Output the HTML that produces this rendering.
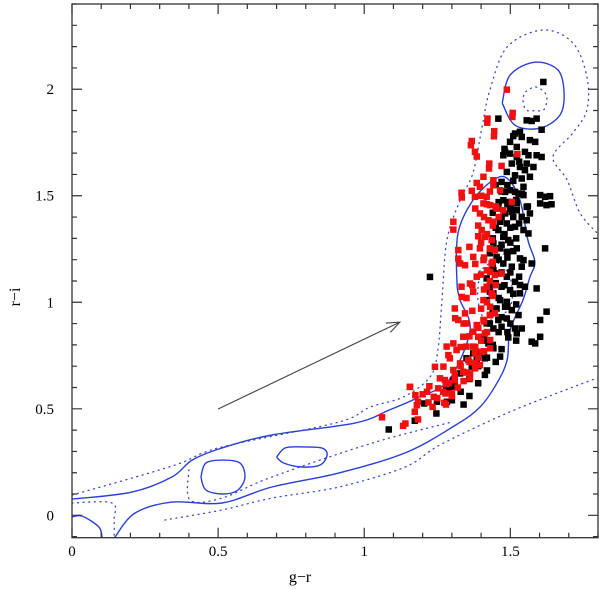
<!DOCTYPE html>
<html><head><meta charset="utf-8"><style>
html,body{margin:0;padding:0;background:#fff;}
svg{display:block;font-family:"Liberation Serif",serif;}
</style></head><body>
<svg id="chart" width="600" height="589" viewBox="0 0 600 589" xmlns="http://www.w3.org/2000/svg">
<g id="contours"></g>
<g id="pts"></g>
<g id="arrow"></g>
<g id="axes"></g>
<text x="300" y="582" text-anchor="middle" font-size="16">g−r</text>
<text x="20" y="297" text-anchor="middle" font-size="16" transform="rotate(-90 20 297)">r−i</text>
</svg>
<script>
const xTicks=[0,0.5,1,1.5];
const xTickLabels=["0","0.5","1","1.5"];
const yTicks=[0,0.5,1,1.5,2];
const yTickLabels=["0","0.5","1","1.5","2"];
const blackGR=[1.613,1.556,1.573,1.59,1.607,1.459,1.516,1.533,1.499,1.539,1.567,1.585,1.476,1.499,1.522,1.55,1.562,1.59,1.607,1.505,1.533,1.556,1.579,1.488,1.516,1.539,1.567,1.47,1.482,1.499,1.516,1.528,1.545,1.602,1.624,1.641,1.476,1.493,1.522,1.556,1.459,1.482,1.505,1.539,1.556,1.567,1.465,1.488,1.516,1.545,1.562,1.459,1.476,1.493,1.619,1.442,1.465,1.488,1.522,1.533,1.545,1.453,1.476,1.505,1.539,1.573,1.442,1.459,1.488,1.516,1.533,1.55,1.59,1.419,1.431,1.47,1.499,1.442,1.465,1.488,1.533,1.624,1.419,1.453,1.482,1.505,1.528,1.602,1.431,1.459,1.488,1.419,1.442,1.47,1.516,1.539,1.493,1.522,1.602,1.573,1.585,1.408,1.425,1.442,1.396,1.413,1.465,1.385,1.368,1.413,1.328,1.305,1.288,1.31,1.373,1.35,1.602,1.619,1.636,1.522,1.545,1.482,1.522,1.084,1.173,1.205,1.247,1.249,1.283,1.28,1.225,
1.45,1.47,1.49,1.51,1.46,1.50,1.52,1.44,1.47,1.51,1.53,1.45,1.48,1.50,1.44,1.47,1.50,1.52,1.43,1.46,1.49,1.51,1.44,1.47,1.50,1.53,1.45,1.48,1.51,1.43,1.46,1.49,1.52,1.44,1.47,1.50,1.43,1.46,1.49,1.52,1.41,1.44,1.47,1.42,1.45,1.39,1.42,1.36,1.39,1.33,1.36,1.30,1.34,1.48,1.51,1.53,1.55,1.49,1.54,1.56];
const blackRI=[2.034,1.854,1.851,1.862,1.81,1.862,1.792,1.8,1.753,1.776,1.761,1.753,1.69,1.698,1.682,1.706,1.69,1.69,1.682,1.651,1.635,1.651,1.635,1.612,1.596,1.581,1.589,1.565,1.518,1.526,1.518,1.51,1.503,1.464,1.456,1.46,1.479,1.471,1.464,1.448,1.44,1.417,1.424,1.401,1.385,1.417,1.378,1.37,1.354,1.339,1.323,1.339,1.307,1.292,1.253,1.276,1.253,1.237,1.253,1.206,1.198,1.213,1.182,1.167,1.167,1.182,1.151,1.135,1.12,1.096,1.081,1.073,1.065,1.112,1.081,1.073,1.057,1.042,1.01,1.002,1.042,0.956,1.01,0.971,0.979,0.963,0.94,0.917,0.94,0.917,0.924,0.901,0.877,0.885,0.877,0.877,0.835,0.854,0.838,0.815,0.807,0.838,0.807,0.784,0.76,0.737,0.745,0.729,0.698,0.659,0.666,0.635,0.596,0.604,0.76,0.737,1.503,1.495,1.498,1.432,1.542,1.706,1.729,0.403,0.444,0.525,0.478,0.533,0.533,0.603,1.119,
1.55,1.52,1.55,1.57,1.47,1.44,1.48,1.42,1.40,1.40,1.37,1.35,1.32,1.35,1.30,1.27,1.28,1.30,1.23,1.20,1.21,1.24,1.16,1.14,1.14,1.12,1.09,1.08,1.04,1.05,1.02,0.98,0.99,0.96,0.93,0.90,0.90,0.86,0.86,0.82,0.82,0.80,0.78,0.74,0.72,0.70,0.68,0.64,0.62,0.58,0.56,0.54,0.52,1.72,1.78,1.66,1.62,1.46,1.51,1.45];
const redGR=[1.488,1.508,1.422,1.445,1.368,1.379,1.428,1.47,1.524,1.408,1.385,1.442,1.333,1.368,1.379,1.396,1.419,1.442,1.465,1.505,1.408,1.431,1.453,1.476,1.305,1.396,1.425,1.442,1.402,1.413,1.436,1.396,1.431,1.447,1.322,1.373,1.328,1.345,1.408,1.436,1.431,1.447,1.47,1.385,1.362,1.333,1.373,1.419,1.436,1.408,1.431,1.447,1.31,1.345,1.322,1.35,1.385,1.408,1.373,1.39,1.413,1.431,1.339,1.305,1.316,1.35,1.282,1.373,1.293,1.328,1.356,1.379,1.305,1.339,1.362,1.276,1.31,1.362,1.396,1.431,1.402,1.379,1.271,1.061,1.133,1.141,1.156,1.175,1.173,1.184,1.184,1.2,1.223,1.234,1.238,1.253,1.274,1.278,1.28,1.157,1.242,1.259,1.3,1.288,1.18,1.215,1.365,1.385,1.421,1.444,1.507,1.427,1.334,1.305,1.322,1.334,1.311,
1.40,1.42,1.38,1.41,1.44,1.39,1.42,1.40,1.43,1.41,1.44,1.42,1.40,1.43,1.45,1.41,1.44,1.42,1.40,1.43,1.41,1.39,1.42,1.40,1.38,1.41,1.39,1.36,1.38,1.35,1.33,1.31,1.34,1.32,1.29,1.27,1.30,1.25,1.28,1.22,1.37,1.35,1.37,1.34,1.36,1.33,1.38,1.36,1.39,1.45,1.43,1.46];
const redRI=[1.998,1.889,1.862,1.803,1.757,1.706,1.651,1.64,1.695,1.589,1.56,1.573,1.514,1.523,1.495,1.542,1.495,1.55,1.526,1.471,1.464,1.456,1.44,1.432,1.378,1.417,1.385,1.378,1.339,1.307,1.292,1.253,1.253,1.245,1.245,1.213,1.182,1.174,1.198,1.182,1.143,1.128,1.135,1.12,1.088,1.073,1.049,1.073,1.042,1.01,0.979,0.948,0.971,0.948,0.917,0.901,0.893,0.917,0.862,0.838,0.854,0.823,0.838,0.807,0.776,0.792,0.792,0.792,0.737,0.713,0.729,0.713,0.682,0.674,0.666,0.635,0.635,0.643,0.705,0.784,0.768,0.76,0.698,0.46,0.42,0.431,0.603,0.564,0.486,0.45,0.533,0.568,0.606,0.509,0.556,0.596,0.528,0.572,0.616,0.603,0.697,0.643,0.572,0.752,0.517,0.58,1.737,1.684,1.843,1.779,1.87,1.628,1.492,1.341,1.205,1.025,0.925,
1.50,1.46,1.44,1.40,1.36,1.36,1.32,1.28,1.25,1.21,1.19,1.15,1.13,1.10,1.08,1.06,1.03,1.00,0.97,0.94,0.91,0.88,0.86,0.82,0.79,0.77,0.74,0.72,0.69,0.67,0.70,0.66,0.63,0.60,0.62,0.58,0.56,0.55,0.52,0.53,1.08,1.02,0.96,0.90,0.84,0.79,1.18,1.26,1.31,1.45,1.52,1.40];
// contour lines in data units [g-r, r-i]
const solidOuter=[[0,0.076],[0.205,0.109],[0.342,0.18],[0.411,0.259],[0.513,0.316],[0.684,0.377],[0.968,0.433],[1.085,0.494],[1.187,0.555],[1.29,0.635],[1.362,0.868],[1.328,1.01],[1.317,1.104],[1.321,1.324],[1.372,1.479],[1.441,1.573],[1.489,1.582],[1.533,1.479],[1.56,1.292],[1.584,1.189],[1.567,1.118],[1.543,1.01],[1.499,0.869],[1.489,0.728],[1.454,0.62],[1.396,0.508],[1.311,0.422],[1.14,0.293],[0.914,0.199],[0.684,0.133],[0.513,0.058],[0.342,0.062],[0.216,0.011],[0.147,-0.102],[0.13,-0.14]];
const solidTop=[[1.472,1.935],[1.499,2.066],[1.584,2.127],[1.663,2.09],[1.684,1.982],[1.67,1.879],[1.602,1.817],[1.516,1.831],[1.472,1.935]];
const solidLoop1=[[0.441,0.18],[0.458,0.245],[0.517,0.259],[0.575,0.245],[0.592,0.18],[0.568,0.119],[0.517,0.1],[0.458,0.119],[0.441,0.18]];
const solidLoop2=[[0.7,0.273],[0.729,0.316],[0.787,0.321],[0.855,0.316],[0.873,0.283],[0.849,0.236],[0.787,0.227],[0.725,0.245],[0.7,0.273]];
const solidCorner=[[0,-0.008],[0.034,-0.003],[0.092,-0.055],[0.103,-0.106],[0.106,-0.13]];
const dottedOuter=[[0,0.095],[0.342,0.231],[0.455,0.297],[0.571,0.339],[0.914,0.438],[1.02,0.508],[1.133,0.555],[1.225,0.649],[1.252,0.776],[1.266,1.01],[1.283,1.291],[1.328,1.479],[1.372,1.606],[1.403,1.822],[1.43,1.996],[1.489,2.198],[1.612,2.278],[1.714,2.217],[1.762,2.058],[1.762,1.903],[1.714,1.795],[1.646,1.683],[1.694,1.575],[1.738,1.42],[1.796,1.326]];
const dottedInner=[[0,0.058],[0.137,0.058],[0.144,-0.022],[0.144,-0.12]];
const dottedMid=[[0.4,0.213],[0.404,0.072],[0.513,0.081],[0.684,0.18],[1.027,0.339],[1.3,0.438]];
const dottedCore=[[1.396,1.148],[1.389,1.01],[1.42,0.916],[1.499,0.977],[1.499,1.118],[1.448,1.189],[1.396,1.148]];
const dottedTopCore=[[1.553,1.989],[1.584,2.011],[1.615,1.989],[1.625,1.955],[1.615,1.904],[1.584,1.899],[1.553,1.904],[1.543,1.955],[1.553,1.989]];
const dottedLower=[[0.318,-0.022],[0.513,0.025],[0.684,0.081],[0.914,0.133],[1.14,0.227],[1.259,0.33],[1.489,0.48],[1.714,0.602],[1.807,0.649]];
const arrowFrom=[0.5,0.499];
const arrowTo=[1.122,0.907];

const X0=72,X1=598,Y0=4,Y1=537.7;
const xMin=0,xMax=1.8,yMin=-0.105,yMax=2.4;
function sx(v){return X0+(v-xMin)/(xMax-xMin)*(X1-X0);}
function sy(v){return Y1-(v-yMin)/(yMax-yMin)*(Y1-Y0);}
const NS="http://www.w3.org/2000/svg";
function mk(tag,attrs,parent){const e=document.createElementNS(NS,tag);for(const k in attrs)e.setAttribute(k,attrs[k]);parent.appendChild(e);return e;}
const svg=document.getElementById('chart');
const defs=mk('defs',{},svg);
const cp=mk('clipPath',{id:'clip'},defs);
mk('rect',{x:X0,y:Y0,width:X1-X0,height:Y1-Y0},cp);

function smoothPath(pts){
  const p=pts.map(d=>[sx(d[0]),sy(d[1])]);
  let s='M'+p[0][0].toFixed(1)+','+p[0][1].toFixed(1);
  for(let i=0;i<p.length-1;i++){
    const a=p[Math.max(0,i-1)],b=p[i],c=p[i+1],d=p[Math.min(p.length-1,i+2)];
    const c1=[b[0]+(c[0]-a[0])/6,b[1]+(c[1]-a[1])/6],c2=[c[0]-(d[0]-b[0])/6,c[1]-(d[1]-b[1])/6];
    s+='C'+c1[0].toFixed(1)+','+c1[1].toFixed(1)+' '+c2[0].toFixed(1)+','+c2[1].toFixed(1)+' '+c[0].toFixed(1)+','+c[1].toFixed(1);
  }
  return s;
}
const cg=document.getElementById('contours');
cg.setAttribute('clip-path','url(#clip)');
const solids=[['contour-solid-outer',solidOuter],['contour-solid-top',solidTop],['contour-solid-loop-1',solidLoop1],['contour-solid-loop-2',solidLoop2],['contour-solid-corner',solidCorner]];
const dots=[['contour-dotted-outer',dottedOuter],['contour-dotted-inner',dottedInner],['contour-dotted-mid',dottedMid],['contour-dotted-core',dottedCore],['contour-dotted-top-core',dottedTopCore],['contour-dotted-lower',dottedLower]];
solids.forEach(s=>{const e=mk('path',{d:smoothPath(s[1]),fill:'none',stroke:'#2a3fd6','stroke-width':1.4},cg);

});
dots.forEach(s=>{const e=mk('path',{d:smoothPath(s[1]),fill:'none',stroke:'#3a4ad0','stroke-width':1.3,'stroke-dasharray':'1 4.6','stroke-linecap':'round'},cg);

});

const pg=document.getElementById('pts');
pg.setAttribute('clip-path','url(#clip)');
for(let i=0;i<blackGR.length;i++){const e=mk('rect',{x:sx(blackGR[i])-3.25,y:sy(blackRI[i])-3.25,width:6.5,height:6.5,fill:'#000'},pg);

}
for(let i=0;i<redGR.length;i++){const e=mk('rect',{x:sx(redGR[i])-3.25,y:sy(redRI[i])-3.25,width:6.5,height:6.5,fill:'#f01010'},pg);

}

const ag=document.getElementById('arrow');
const ax0=sx(arrowFrom[0]),ay0=sy(arrowFrom[1]),ax1=sx(arrowTo[0]),ay1=sy(arrowTo[1]);
const ang=Math.atan2(ay1-ay0,ax1-ax0),L=14;
const al=mk('path',{d:`M${ax0},${ay0}L${ax1},${ay1}M${ax1-L*Math.cos(ang-0.38)},${ay1-L*Math.sin(ang-0.38)}L${ax1},${ay1}L${ax1-L*Math.cos(ang+0.38)},${ay1-L*Math.sin(ang+0.38)}`,fill:'none',stroke:'#444','stroke-width':1.1},ag);



const axg=document.getElementById('axes');
const fr=mk('rect',{x:X0,y:Y0,width:X1-X0,height:Y1-Y0,fill:'none',stroke:'#333','stroke-width':1.3},axg);


let td='';
for(let k=0;k<=18;k++){const v=k/10,x=sx(v),len=(k%5===0)?10:5;td+=`M${x},${Y1}v${-len}M${x},${Y0}v${len}`;}
for(let k=-1;k<=24;k++){const v=k/10,y=sy(v),len=(k%5===0)?10:5;if(y<Y0||y>Y1)continue;td+=`M${X0},${y}h${len}M${X1},${y}h${-len}`;}
const tk=mk('path',{d:td,stroke:'#333','stroke-width':1.2,fill:'none'},axg);


xTicks.forEach((v,i)=>{const t=mk('text',{x:sx(v),y:556,'text-anchor':'middle','font-size':15},axg);t.textContent=xTickLabels[i];

});
yTicks.forEach((v,i)=>{const t=mk('text',{x:54,y:sy(v)+5,'text-anchor':'end','font-size':15},axg);t.textContent=yTickLabels[i];

});
</script>
</body></html>
